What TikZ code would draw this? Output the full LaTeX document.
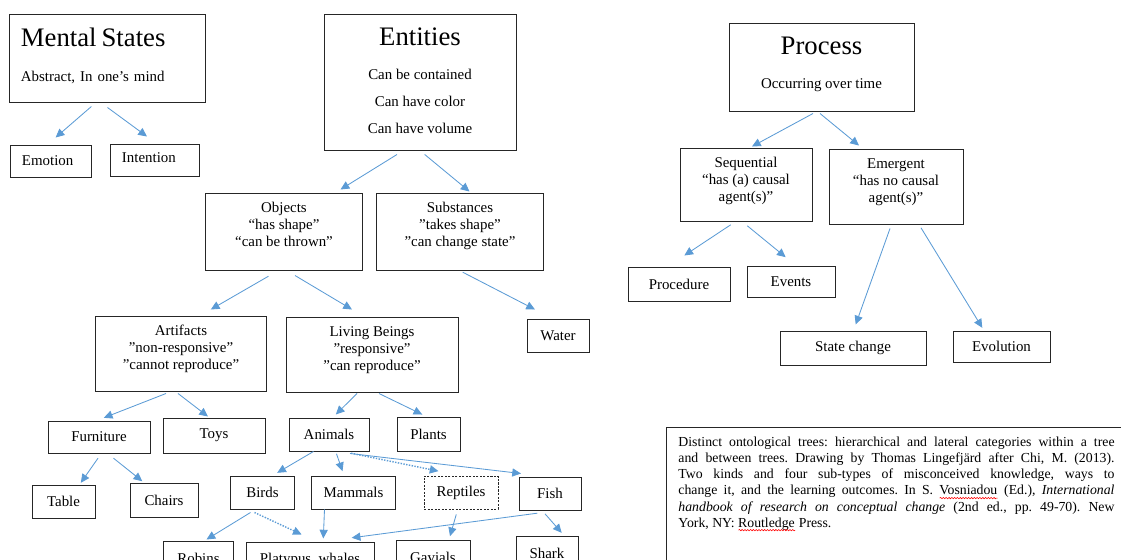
\documentclass[tikz,border=0pt]{standalone}
\usepackage{fontspec}
\setmainfont{Liberation Serif}
\usetikzlibrary{arrows.meta,decorations.pathmorphing}
\definecolor{arrowblue}{RGB}{91,155,213}
\newcommand\bodyfont{\fontsize{10.6}{12.1}\selectfont}
\newcommand\headfont{\fontsize{19}{22}\selectfont}
\newcommand\notefont{\fontsize{9.8}{11.4}\selectfont\frenchspacing}
\newsavebox\spellbox
\newcommand\spell[1]{\sbox\spellbox{#1}\rlap{\usebox\spellbox}\tikz[baseline=0pt,x=1pt,y=1pt]
    \draw[red, line width=0.4pt, decorate, decoration={snake, amplitude=0.5pt, segment length=2pt}]
    (0,-2.2) -- (\wd\spellbox,-2.2);}
\begin{document}
\begin{tikzpicture}[x=0.025cm, y=-0.025cm,
    box/.style={draw=black!85, line width=0.7pt, inner sep=0pt, align=center, font=\bodyfont},
    dbox/.style={box, line width=0.5pt, dash pattern=on 1.5pt off 1pt},
    wh/.style 2 args={minimum width=#1*0.025cm, minimum height=#2*0.025cm},
    lift/.style={execute at end node={\rule[-#1]{0pt}{#1}}},
    note/.style={draw=black!85, line width=0.7pt, anchor=north west, text width=10.9cm, align=justify,
        inner xsep=8.5pt, inner ysep=7pt, font=\notefont},
    arr/.style={draw=arrowblue, line width=0.6pt, -{Triangle[length=6.2pt,width=5.8pt]}},
    arrdot/.style={arr, line width=1pt, dash pattern=on 1pt off 1pt}]
    \useasboundingbox (0,0) rectangle (1121,560);
    \clip (0,0) rectangle (1121,560);
    \node[box, wh={196}{88}, text width=4.3cm, align=left, lift=5pt] (ment) at (107,58)
        {{\headfont Mental States}\\[12.8pt]Abstract, In one’s mind};
    \node[box, wh={81}{32}, text width=1.425cm, align=left] (emo) at (50.5,161) {Emotion};
    \node[box, wh={89}{32}, text width=1.625cm, align=left, lift=2.8pt] (intent) at (154.5,160) {Intention};
    \node[box, wh={192}{136}, lift=1.9pt] (ent) at (420,82)
        {{\headfont Entities}\\[12.1pt]Can be contained\\[6.9pt]Can have color\\[6.9pt]Can have volume};
    \node[box, wh={157}{77}, lift=9.7pt] (obj) at (284,231.5) {Objects\\“has shape”\\“can be thrown”};
    \node[box, wh={167}{77}, lift=9.7pt] (sub) at (460,231.5) {Substances\\”takes shape”\\”can change state”};
    \node[box, wh={171}{75}, lift=8.5pt] (art) at (181,353.5) {Artifacts\\”non-responsive”\\”cannot reproduce”};
    \node[box, wh={172}{75}, lift=8.5pt] (liv) at (372,354.5) {Living Beings\\”responsive”\\”can reproduce”};
    \node[box, wh={62}{33}] (water) at (558,335.5) {Water};
    \node[box, wh={102}{32}] (furn) at (99,437) {Furniture};
    \node[box, wh={102}{35}] (toys) at (214,435.5) {Toys};
    \node[box, wh={80}{33}] (anim) at (329,434.5) {Animals};
    \node[box, wh={63}{34}] (plant) at (428.5,434) {Plants};
    \node[box, wh={63}{33}] (table) at (63.5,501.5) {Table};
    \node[box, wh={68}{34}] (chair) at (164,500) {Chairs};
    \node[box, wh={64}{33}] (bird) at (262.5,492.5) {Birds};
    \node[box, wh={84}{33}] (mamm) at (353.5,492.5) {Mammals};
    \node[dbox, wh={74}{33}] (rept) at (461,492.5) {Reptiles};
    \node[box, wh={62}{33}] (fish) at (550,493.5) {Fish};
    \node[box, wh={70}{35}] (robin) at (198.5,558.5) {Robins};
    \node[box, wh={128}{35}] (platy) at (310,559.5) {Platypus, whales};
    \node[box, wh={74}{35}] (gav) at (433,557.5) {Gavials};
    \node[box, wh={62}{35}] (shark) at (547,553.5) {Shark};
    \node[box, wh={185}{88}, lift=6.4pt] (proc) at (821.5,67)
        {{\headfont Process}\\[12.4pt]Occurring over time};
    \node[box, wh={132}{73}, lift=8pt] (seq) at (746,184.5) {Sequential\\“has (a) causal\\agent(s)”};
    \node[box, wh={134}{75}, lift=8.5pt] (emer) at (896,186.5) {Emergent\\“has no causal\\agent(s)”};
    \node[box, wh={102}{34}] (procd) at (679,284) {Procedure};
    \node[box, wh={88}{31}] (event) at (791,281.5) {Events};
    \node[box, wh={146}{34}] (state) at (853,348) {State change};
    \node[box, wh={97}{31}] (evol) at (1001.5,346.5) {Evolution};
    \node[note, lift=40pt] (cap) at (666,427)
        {Distinct ontological trees: hierarchical and lateral categories within a tree\linebreak
        and between trees. Drawing by Thomas Lingefjärd after Chi, M. (2013).\linebreak
        Two kinds and four sub-types of misconceived knowledge, ways to\linebreak
        change it, and the learning outcomes. In S. \spell{Vosniadou} (Ed.), \textit{International}\linebreak
        \textit{handbook of research on conceptual change} (2nd ed., pp. 49-70). New\linebreak
        York, NY: \spell{Routledge} Press.};
    \foreach \pa/\pax/\pay/\ch/\chx/\chy in {ment/-15.6/4/emo/5.1/-7, ment/0.5/5/intent/-7.5/-7,
        ent/-23/4/obj/56.5/-3, ent/4.7/4/sub/9.5/-1, obj/-15.5/5.7/art/29.8/-6, obj/11/5/liv/-20/-7,
        sub/2.7/1.7/water/-23/-9, art/-15/2/furn/4.8/-2.7, art/-3/2/toys/-6/-1,
        liv/-15/1/anim/6.8/-3, liv/7/1/plant/-6.2/-2, furn/-1/4.7/table/17.3/-1.7,
        furn/14.5/4.7/chair/-21.7/-1.3, anim/-15.5/0/bird/14.7/-2.7, anim/7.5/2.3/mamm/-11/-4.3,
        anim/21/2/fish/-29/-3, bird/-12/3/robin/8/-1, mamm/-29/0/platy/13.3/-3,
        fish/-12.7/2.7/platy/41.7/-3.7, rept/-4.7/5/gav/17/-3.3, fish/-5/3.3/shark/14.7/-2.7,
        proc/-8.5/2/seq/6/-1, proc/-1.5/2/emer/-37/-3, seq/-15.3/3.3/procd/5.3/-11,
        seq/1.3/4.3/event/-5.3/-8.3, emer/-6/4/state/2.7/-6, emer/25/3.3/evol/-19.2/-2.7}
        \draw[arr] ([shift={(\pax,\pay)}]\pa.south) -- ([shift={(\chx,\chy)}]\ch.north);
    \foreach \pa/\pax/\pay/\ch/\chx/\chy in {anim/22/1.7/rept/-22.5/-4.5, bird/-8/3/platy/-8.3/-7}
        \draw[arrdot] ([shift={(\pax,\pay)}]\pa.south) -- ([shift={(\chx,\chy)}]\ch.north);
\end{tikzpicture}
\end{document}
